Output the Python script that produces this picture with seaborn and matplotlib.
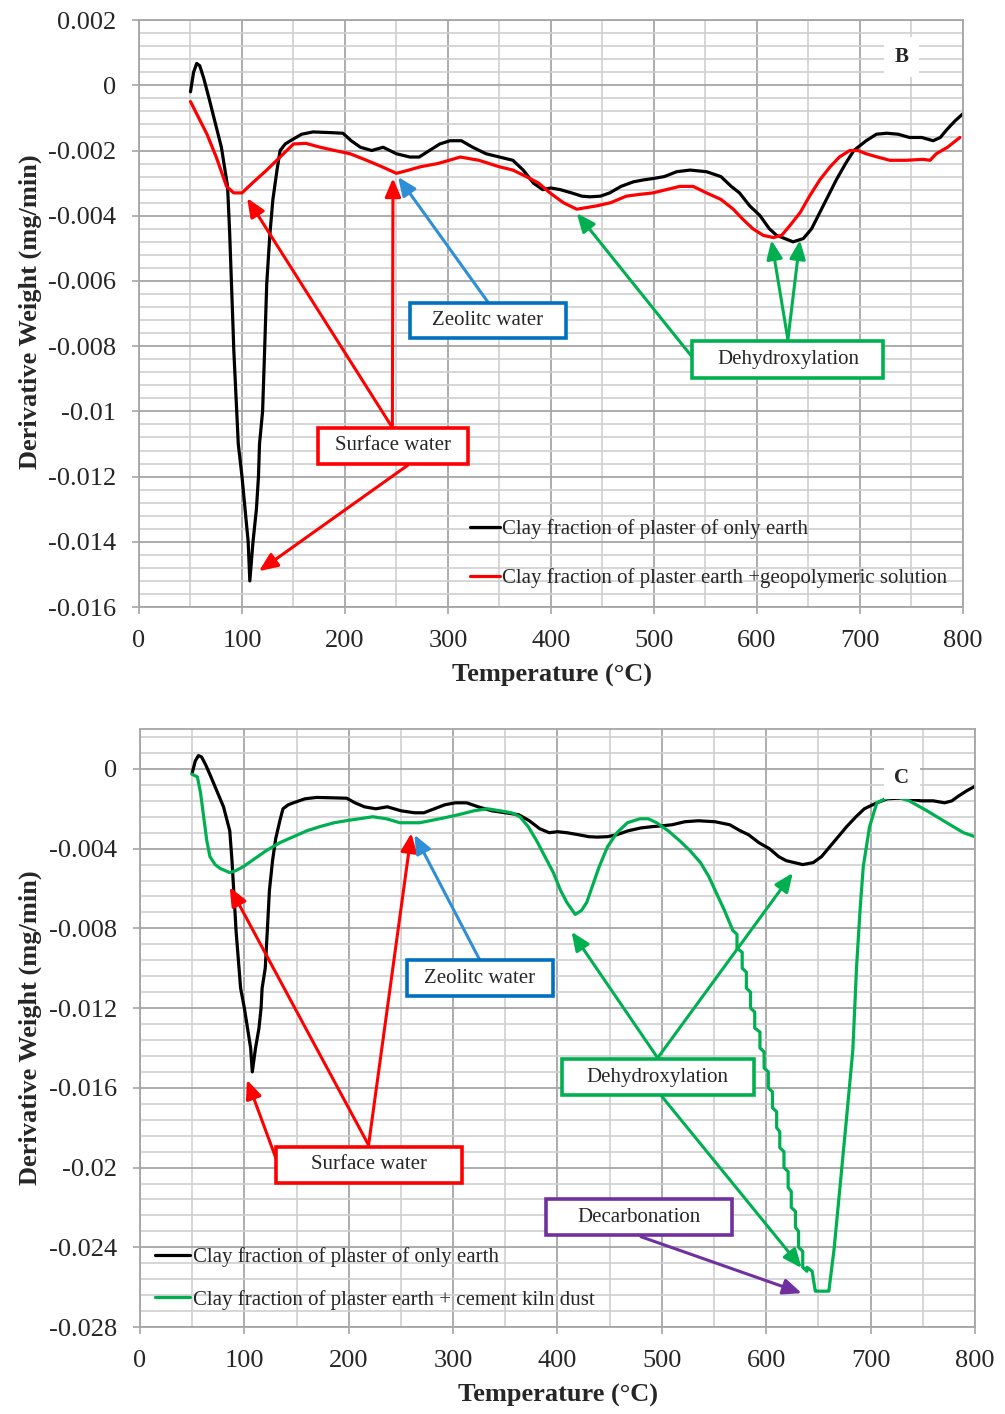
import pandas as pd
import matplotlib
matplotlib.use('Agg')
import matplotlib.pyplot as plt
from matplotlib.ticker import MultipleLocator, FuncFormatter
from matplotlib.patches import Rectangle
from matplotlib.transforms import Affine2D, ScaledTranslation
import seaborn as sns

# --- データ ---
earth_T = [50, 53, 56, 59, 63, 68, 72, 76, 80, 83, 86, 88, 91.5, 92, 96.4, 100, 103, 106,
           107.6, 110.7, 114, 116, 117, 120, 122, 124, 127, 130, 134, 137, 142, 147, 158,
           169, 185, 198, 206, 215, 226, 237, 250, 263, 272, 282, 292, 302, 313, 324, 337,
           350, 363, 373, 383, 392, 400, 409, 420, 430, 438, 448, 457, 468, 480, 490, 499,
           510, 522, 535, 551, 565, 575, 583, 593, 603, 612, 619, 627, 635, 645, 653, 661,
           669, 677, 686, 694, 706, 716, 726, 737, 748, 760, 771, 778, 784, 792, 800]
earth_dw = [-0.0002, 0.0004, 0.00067, 0.0006, 0.0002, -0.0004, -0.0009, -0.0014, -0.0019,
            -0.0025, -0.0031, -0.0045, -0.0076, -0.0081, -0.011, -0.012, -0.013, -0.014,
            -0.0152, -0.014, -0.013, -0.012, -0.011, -0.010, -0.0081, -0.0061, -0.0046,
            -0.0035, -0.0026, -0.0020, -0.0018, -0.0017, -0.0015, -0.00143, -0.00145,
            -0.00147, -0.0017, -0.0019, -0.0020, -0.0019, -0.0021, -0.0022, -0.0022,
            -0.0020, -0.0018, -0.0017, -0.0017, -0.0019, -0.0021, -0.0022, -0.0023,
            -0.0026, -0.0030, -0.0032, -0.00315, -0.0032, -0.0033, -0.0034, -0.00342,
            -0.0034, -0.0033, -0.0031, -0.00296, -0.0029, -0.00286, -0.0028, -0.00265,
            -0.0026, -0.00265, -0.0028, -0.0031, -0.0033, -0.0037, -0.0040, -0.0044,
            -0.0046, -0.0047, -0.0048, -0.0047, -0.0044, -0.0039, -0.0034, -0.0029,
            -0.0024, -0.0020, -0.0017, -0.0015, -0.00147, -0.0015, -0.0016, -0.0016,
            -0.0017, -0.0016, -0.00137, -0.0011, -0.00087]

geo_T = [50, 58, 66, 75, 85, 92, 100, 110, 124, 137, 150, 162, 176, 190, 205, 221, 236, 250,
         262, 273, 290, 312, 330, 350, 363, 376, 388, 399, 412, 425, 444, 458, 473, 485, 499,
         512, 525, 538, 551, 565, 577, 586, 596, 606, 616, 624, 632, 642, 651, 661, 671, 680,
         690, 698, 706, 717, 729, 745, 761, 768, 774, 785, 797]
geo_dw = [-0.0005, -0.0010, -0.0015, -0.0022, -0.0031, -0.0033, -0.0033, -0.0030, -0.0026,
          -0.0022, -0.0018, -0.00178, -0.0019, -0.0020, -0.0021, -0.0023, -0.0025, -0.0027,
          -0.0026, -0.0025, -0.0024, -0.0022, -0.0023, -0.0025, -0.0026, -0.0028, -0.0030,
          -0.0033, -0.0036, -0.0038, -0.0037, -0.0036, -0.0034, -0.00335, -0.0033, -0.0032,
          -0.0031, -0.0031, -0.0033, -0.0035, -0.0038, -0.0041, -0.0044, -0.0046, -0.00467,
          -0.0046, -0.0043, -0.0039, -0.0034, -0.0029, -0.0025, -0.0022, -0.0020, -0.0020,
          -0.0021, -0.0022, -0.0023, -0.0023, -0.00227, -0.0023, -0.0021, -0.0019, -0.0016]

# 600°C付近の階段状の下降を含む
ckd_T = [49.5, 55, 58, 61, 64, 67, 72, 77, 86, 92, 99, 110, 121, 134, 147, 160, 172, 186, 201,
         223, 236, 249, 268, 290, 305, 320, 333, 345, 356, 364, 372, 380, 388, 396, 403, 409,
         417, 423, 428, 434, 440, 448, 457, 467, 479, 487, 495, 506, 517, 527, 537, 545, 552,
         560, 568, 572, 572, 577, 577, 581, 581, 585, 585, 589, 589, 594, 594, 598, 598, 602,
         602, 606, 606, 610, 610, 613, 613, 617, 617, 621, 621, 624, 624, 628, 628, 631, 631,
         635, 635, 639, 639, 644, 647, 649, 660, 665, 671, 677, 683, 686.6, 690, 693, 699,
         706, 715, 725, 737, 754, 773, 789, 800]
ckd_dw = [-0.00026, -0.0004, -0.0012, -0.0024, -0.0036, -0.0044, -0.0048, -0.0050, -0.0052,
          -0.0051, -0.0049, -0.0045, -0.0041, -0.0037, -0.0034, -0.0031, -0.0029, -0.0027,
          -0.00257, -0.0024, -0.0025, -0.0027, -0.0027, -0.00247, -0.0023, -0.0021, -0.0020,
          -0.0021, -0.0022, -0.0024, -0.0029, -0.0036, -0.0044, -0.0052, -0.0061, -0.0067,
          -0.0073, -0.0071, -0.0067, -0.0058, -0.0049, -0.0039, -0.0032, -0.0027, -0.0025,
          -0.0025, -0.0027, -0.0031, -0.0036, -0.0041, -0.0047, -0.0054, -0.0062, -0.0071,
          -0.0081, -0.0083, -0.0090, -0.0092, -0.0100, -0.0102, -0.0110, -0.0112, -0.0120,
          -0.0122, -0.0130, -0.0132, -0.0140, -0.0142, -0.0150, -0.0152, -0.0160, -0.0162,
          -0.0170, -0.0172, -0.0180, -0.0182, -0.0190, -0.0192, -0.0200, -0.0202, -0.0210,
          -0.0212, -0.0220, -0.0222, -0.0230, -0.0232, -0.0240, -0.0242, -0.0250, -0.0252,
          -0.0250, -0.0252, -0.0262, -0.0262, -0.0262, -0.0241, -0.0208, -0.0175, -0.0141,
          -0.0099, -0.0070, -0.0049, -0.0029, -0.0017, -0.00147, -0.0014, -0.0016, -0.0021,
          -0.0027, -0.0032, -0.0034]

label_earth = "Clay fraction of plaster of only earth"
label_geo = "Clay fraction of plaster earth +geopolymeric solution"
label_ckd = "Clay fraction of plaster earth + cement kiln dust"

RED = '#ff0000'
BLUE = '#0070c0'
LBLUE = '#2e8fd6'
GREEN = '#00b050'
PURPLE = '#7030a0'

# --- スタイル ---
sns.set_style('white')
plt.rcParams['font.family'] = ['Liberation Serif', 'DejaVu Serif']

fig = plt.figure(figsize=(10.05, 14.14), dpi=100)
ax1 = fig.add_axes([0.1383, 0.5707, 0.8199, 0.4151])
ax2 = fig.add_axes([0.1393, 0.0615, 0.8308, 0.4229])


def style_axis(ax, ymin, ymax, ymaj, ymin_step):
    ax.set_xlim(0, 800)
    ax.set_ylim(ymin, ymax)
    ax.xaxis.set_major_locator(MultipleLocator(100))
    ax.xaxis.set_minor_locator(MultipleLocator(50))
    ax.yaxis.set_major_locator(MultipleLocator(ymaj))
    ax.yaxis.set_minor_locator(MultipleLocator(ymin_step))
    ax.yaxis.set_major_formatter(FuncFormatter(lambda v, p: '%g' % round(v, 4)))
    ax.grid(which='major', color='#a6a6a6', lw=1.3)
    ax.grid(which='minor', color='#d0d0d0', lw=1.2)
    ax.set_axisbelow(True)
    for s in ax.spines.values():
        s.set_color('#a6a6a6')
        s.set_linewidth(1.3)
    ax.tick_params(which='major', direction='out', length=5, width=1.2,
                   color='#a6a6a6', labelsize=19, pad=11.5, left=True, bottom=True)
    ax.tick_params(which='minor', length=0)
    ax.set_xlabel('Temperature (°C)', fontsize=19, fontweight='bold')
    ax.set_ylabel('Derivative Weight (mg/min)', fontsize=19, fontweight='bold')


def box(ax, x, y, s, c, w, h):
    # 枠の大きさはピクセルで指定
    tr = Affine2D().translate(-w / 2, -h / 2) + ScaledTranslation(x, y, ax.transData)
    ax.add_patch(Rectangle((0, 0), w, h, transform=tr, fc='white', ec=c, lw=2.6,
                           zorder=6, clip_on=False))
    ax.text(x, y, s, ha='center', va='center', fontsize=15, zorder=7)


def arrow(ax, tail, tip, c):
    ax.annotate('', xy=tip, xytext=tail, zorder=5,
                arrowprops=dict(arrowstyle='-|>,head_length=0.7,head_width=0.3',
                                color=c, lw=2.2, shrinkA=0, shrinkB=0,
                                mutation_scale=16))


# --- 上段 B ---
df_earth = pd.DataFrame({'T': earth_T, 'dw': earth_dw})
df_geo = pd.DataFrame({'T': geo_T, 'dw': geo_dw})
df_ckd = pd.DataFrame({'T': ckd_T, 'dw': ckd_dw})

sns.lineplot(data=df_earth, x='T', y='dw', ax=ax1, color='black', lw=2.3,
             estimator=None, sort=False, label=label_earth)
sns.lineplot(data=df_geo, x='T', y='dw', ax=ax1, color=RED, lw=2.3,
             estimator=None, sort=False, label=label_geo)
style_axis(ax1, -0.016, 0.002, 0.002, 0.0004)
ax1.yaxis.set_label_coords(-0.118, 0.503)
ax1.xaxis.set_label_coords(0.501, -0.097)
ax1.legend(loc='upper left', bbox_to_anchor=(0.4017, 0.149), frameon=False,
           fontsize=15, handlelength=1.45, handletextpad=0.1, labelspacing=1.38,
           borderpad=0, borderaxespad=0)

arrow(ax1, (246, -0.0105), (105, -0.00346), RED)
arrow(ax1, (246, -0.0105), (246.6, -0.00285), RED)
arrow(ax1, (261, -0.01165), (116.5, -0.0149), RED)
box(ax1, 246.6, -0.01106, 'Surface water', RED, 150, 36)
arrow(ax1, (338.8, -0.00665), (251.5, -0.00281), LBLUE)
box(ax1, 338.8, -0.0072, 'Zeolitc water', BLUE, 156, 35)
arrow(ax1, (630, -0.0078), (614, -0.00475), GREEN)
arrow(ax1, (630, -0.0078), (641.7, -0.00475), GREEN)
arrow(ax1, (538, -0.00837), (425, -0.00392), GREEN)
box(ax1, 630, -0.0084, 'Dehydroxylation', GREEN, 191, 37)
ax1.text(740, 0.00087, 'B', ha='center', va='center', fontsize=15, fontweight='bold',
         bbox=dict(boxstyle='square,pad=0.5', fc='white', ec='none'))

# --- 下段 C ---
sns.lineplot(data=df_earth, x='T', y='dw', ax=ax2, color='black', lw=2.3,
             estimator=None, sort=False, label=label_earth)
sns.lineplot(data=df_ckd, x='T', y='dw', ax=ax2, color=GREEN, lw=2.3,
             estimator=None, sort=False, label=label_ckd)
style_axis(ax2, -0.028, 0.002, 0.004, 0.0008)
ax2.yaxis.set_label_coords(-0.117, 0.5)
ax2.xaxis.set_label_coords(0.501, -0.095)
ax2.legend(loc='upper left', bbox_to_anchor=(0.018, 0.134), frameon=False,
           fontsize=15, handlelength=1.7, handletextpad=0.1, labelspacing=1.1,
           borderpad=0, borderaxespad=0)

arrow(ax2, (219, -0.01887), (86, -0.00593), RED)
arrow(ax2, (219, -0.01887), (260, -0.00322), RED)
arrow(ax2, (130, -0.0195), (102.5, -0.0156), RED)
box(ax2, 219, -0.01987, 'Surface water', RED, 186, 36)
arrow(ax2, (325.7, -0.0096), (263, -0.0033), LBLUE)
box(ax2, 325.7, -0.0105, 'Zeolitc water', BLUE, 146, 36)
arrow(ax2, (496, -0.0145), (413.5, -0.00817), GREEN)
arrow(ax2, (496, -0.0145), (625.5, -0.00522), GREEN)
arrow(ax2, (498, -0.0163), (634, -0.02504), GREEN)
box(ax2, 496, -0.01546, 'Dehydroxylation', GREEN, 192, 36)
arrow(ax2, (480, -0.02347), (634, -0.0263), PURPLE)
box(ax2, 478, -0.02248, 'Decarbonation', PURPLE, 186, 36)
ax2.text(730, -0.00046, 'C', ha='center', va='center', fontsize=15, fontweight='bold',
         bbox=dict(boxstyle='square,pad=0.5', fc='white', ec='none'))

fig.savefig('out.png', dpi=100, facecolor='white')
